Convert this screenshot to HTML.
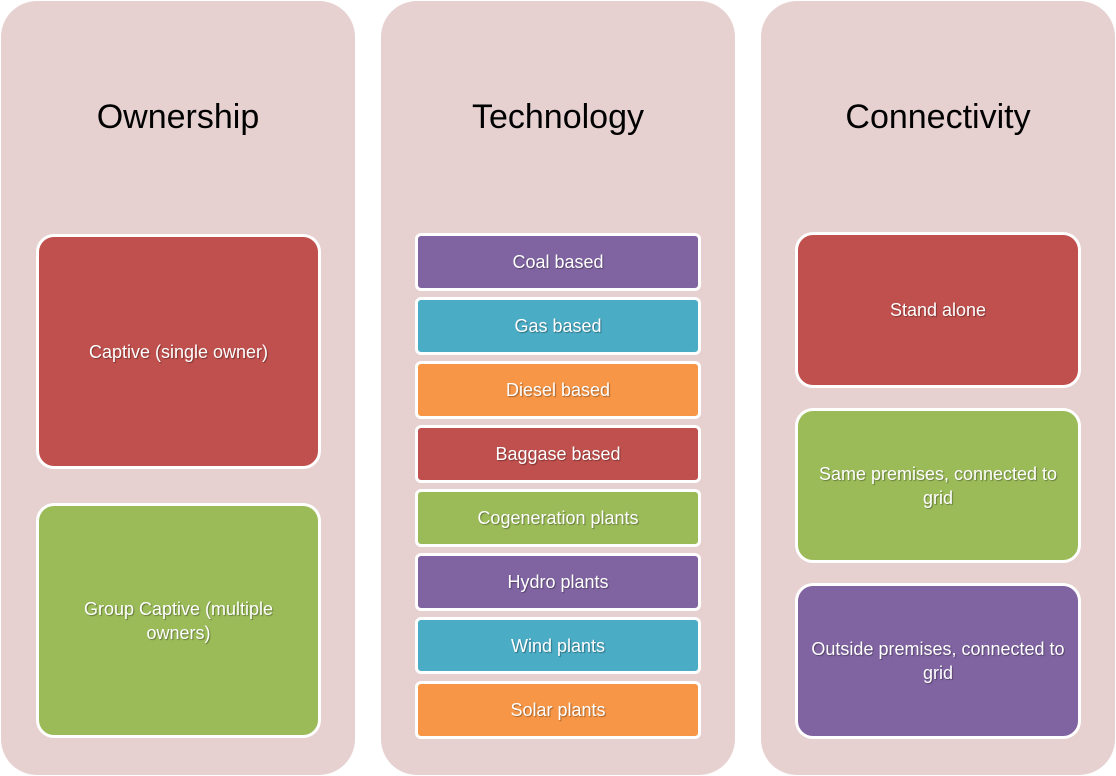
<!DOCTYPE html>
<html><head><style>
body{margin:0;width:1116px;height:776px;background:#fff;position:relative;overflow:hidden;font-family:"Liberation Sans",sans-serif}
.p{position:absolute;top:1px;width:354px;height:774px;background:#e6d0d0;border-radius:36px}
.h{position:absolute;top:97px;width:100%;text-align:center;font-size:34px;color:#000}
.b{position:absolute;box-sizing:border-box;border:3px solid #fff;display:flex;align-items:center;justify-content:center;text-align:center;color:#fff;font-size:18px;line-height:24px;text-shadow:1px 1px 1px rgba(0,0,0,.35);padding:0 6px}
.r{background:#c0504d}.g{background:#9bbb59}.u{background:#8064a2}.t{background:#4bacc6}.o{background:#f79646}
.l{border-radius:18px}.s{border-radius:6px;left:34px;width:286px}
</style></head><body>
<div class="p" style="left:1px"><div class="h">Ownership</div>
<div class="b r l" style="left:35px;top:233px;width:285px;height:235px">Captive (single owner)</div>
<div class="b g l" style="left:35px;top:502px;width:285px;height:235px;padding:0 30px">Group Captive (multiple owners)</div>
</div>
<div class="p" style="left:381px"><div class="h">Technology</div>
<div class="b u s" style="top:232px;height:58px">Coal based</div>
<div class="b t s" style="top:296px;height:58px">Gas based</div>
<div class="b o s" style="top:360px;height:58px">Diesel based</div>
<div class="b r s" style="top:424px;height:58px">Baggase based</div>
<div class="b g s" style="top:488px;height:58px">Cogeneration plants</div>
<div class="b u s" style="top:552px;height:58px">Hydro plants</div>
<div class="b t s" style="top:616px;height:57px">Wind plants</div>
<div class="b o s" style="top:680px;height:58px">Solar plants</div>
</div>
<div class="p" style="left:761px"><div class="h">Connectivity</div>
<div class="b r l" style="left:34px;top:231px;width:286px;height:156px">Stand alone</div>
<div class="b g l" style="left:34px;top:407px;width:286px;height:155px">Same premises, connected to grid</div>
<div class="b u l" style="left:34px;top:582px;width:286px;height:156px">Outside premises, connected to grid</div>
</div>
</body></html>
